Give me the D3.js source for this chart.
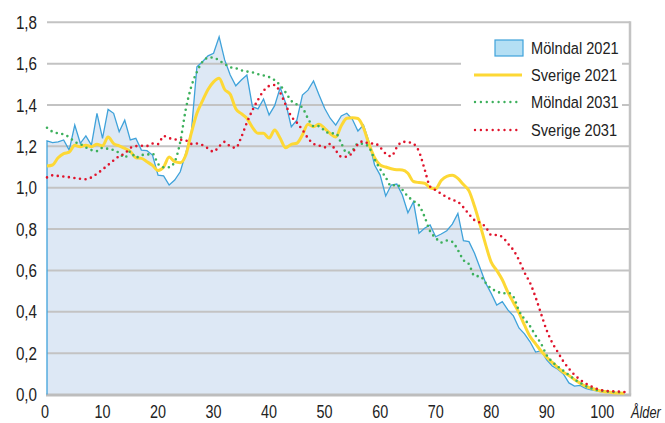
<!DOCTYPE html>
<html>
<head>
<meta charset="utf-8">
<script src="https://cdn.jsdelivr.net/npm/d3@7"></script>
<style>
  body { margin: 0; background: #fff; }
  text { font-family: "Liberation Sans", Arial, sans-serif; }
</style>
</head>
<body>
<div class="chart"></div>
<script>
// ages 0..104
const ages = d3.range(0, 105);

const molndal2021 = [
  1.227, 1.218, 1.222, 1.231, 1.182, 1.303, 1.215, 1.251, 1.206, 1.360,
  1.239, 1.379, 1.360, 1.271, 1.327, 1.231, 1.239, 1.182, 1.179, 1.158,
  1.061, 1.057, 1.013, 1.037, 1.077, 1.168, 1.271, 1.585, 1.609, 1.638,
  1.650, 1.730, 1.618, 1.545, 1.493, 1.521, 1.545, 1.392, 1.381, 1.429,
  1.352, 1.397, 1.484, 1.408, 1.295, 1.327, 1.448, 1.472, 1.516, 1.448,
  1.384, 1.336, 1.303, 1.347, 1.360, 1.331, 1.274, 1.303, 1.222, 1.110,
  1.061, 0.960, 1.013, 1.018, 0.965, 0.879, 0.932, 0.780, 0.804, 0.820,
  0.763, 0.776, 0.792, 0.824, 0.876, 0.744, 0.739, 0.683, 0.612, 0.539,
  0.489, 0.433, 0.449, 0.409, 0.380, 0.322, 0.293, 0.255, 0.205, 0.212,
  0.167, 0.138, 0.122, 0.099, 0.056, 0.041, 0.044, 0.030, 0.022, 0.017,
  0.012, 0.011, 0.010, 0.009, 0.007
];

const sverige2021 = [
  1.105, 1.110, 1.145, 1.165, 1.172, 1.205, 1.198, 1.206, 1.198, 1.210,
  1.202, 1.245, 1.213, 1.202, 1.190, 1.176, 1.145, 1.142, 1.126, 1.108,
  1.083, 1.100, 1.148, 1.126, 1.121, 1.158, 1.265, 1.360, 1.420, 1.475,
  1.512, 1.530, 1.475, 1.452, 1.382, 1.358, 1.336, 1.292, 1.263, 1.263,
  1.240, 1.279, 1.239, 1.193, 1.210, 1.215, 1.255, 1.307, 1.295, 1.307,
  1.287, 1.262, 1.245, 1.300, 1.336, 1.339, 1.335, 1.290, 1.210, 1.145,
  1.110, 1.100, 1.092, 1.087, 1.086, 1.070, 1.030, 1.025, 1.022, 1.000,
  0.995, 1.035, 1.055, 1.060, 1.045, 1.015, 0.985, 0.910, 0.820, 0.725,
  0.640, 0.600, 0.555, 0.495, 0.445, 0.395, 0.335, 0.280, 0.245, 0.210,
  0.180, 0.155, 0.130, 0.108, 0.092, 0.072, 0.055, 0.040, 0.030, 0.022,
  0.016, 0.012, 0.009, 0.007, 0.006
];

const molndal2031 = [
  1.290, 1.271, 1.263, 1.258, 1.244, 1.222, 1.211, 1.195, 1.182, 1.177,
  1.193, 1.188, 1.182, 1.168, 1.145, 1.175, 1.145, 1.158, 1.160, 1.165,
  1.115, 1.099, 1.099, 1.126, 1.222, 1.380, 1.490, 1.560, 1.609, 1.628,
  1.630, 1.615, 1.598, 1.583, 1.578, 1.568, 1.562, 1.558, 1.549, 1.543,
  1.535, 1.520, 1.495, 1.460, 1.420, 1.403, 1.387, 1.335, 1.298, 1.298,
  1.275, 1.263, 1.263, 1.215, 1.168, 1.180, 1.213, 1.212, 1.195, 1.138,
  1.090, 1.050, 1.008, 1.016, 0.990, 0.958, 0.936, 0.915, 0.860, 0.790,
  0.758, 0.735, 0.745, 0.738, 0.699, 0.650, 0.630, 0.573, 0.572, 0.540,
  0.512, 0.500, 0.488, 0.492, 0.473, 0.405, 0.365, 0.330, 0.285, 0.245,
  0.190, 0.158, 0.135, 0.115, 0.094, 0.073, 0.057, 0.041, 0.030, 0.022,
  0.018, 0.014, 0.012, 0.011, 0.011
];

const sverige2031 = [
  1.050, 1.060, 1.057, 1.054, 1.051, 1.047, 1.043, 1.041, 1.050, 1.068,
  1.088, 1.110, 1.132, 1.153, 1.165, 1.192, 1.201, 1.203, 1.202, 1.214,
  1.211, 1.250, 1.240, 1.234, 1.232, 1.229, 1.212, 1.214, 1.206, 1.190,
  1.174, 1.200, 1.222, 1.200, 1.193, 1.245, 1.315, 1.375, 1.425, 1.468,
  1.492, 1.497, 1.460, 1.400, 1.345, 1.315, 1.280, 1.240, 1.212, 1.204,
  1.195, 1.212, 1.180, 1.150, 1.150, 1.170, 1.210, 1.225, 1.213, 1.215,
  1.195, 1.165, 1.152, 1.195, 1.222, 1.220, 1.212, 1.175, 1.090, 1.005,
  0.988, 0.971, 0.954, 0.941, 0.932, 0.905, 0.872, 0.843, 0.831, 0.810,
  0.772, 0.771, 0.762, 0.730, 0.698, 0.650, 0.590, 0.540, 0.470, 0.389,
  0.310, 0.250, 0.205, 0.160, 0.125, 0.095, 0.072, 0.054, 0.040, 0.028,
  0.020, 0.017, 0.016, 0.014, 0.012
];

const xTicks = [0, 10, 20, 30, 40, 50, 60, 70, 80, 90, 100];
const yTicks = [0, 0.2, 0.4, 0.6, 0.8, 1.0, 1.2, 1.4, 1.6, 1.8];
const seriesNames = ["Mölndal 2021", "Sverige 2021", "Mölndal 2031", "Sverige 2031"];

const w = 665, h = 423;
const svg = d3.select(".chart").append("svg").attr("width", w).attr("height", h);

const x = d3.scaleLinear().domain([0, 105]).range([47, 630]);
const y = d3.scaleLinear().domain([0, 1.8]).range([394.5, 22.3]);
const fmt = d => d3.format(".1f")(d).replace(".", ",");
const narrow = 0.8;

// area fill
const area = d3.area().x((d, i) => x(ages[i])).y0(y(0)).y1(d => y(d));
svg.append("path").datum(molndal2021).attr("d", area).attr("fill", "#dde8f5");

// grid
svg.selectAll(".grid")
  .data(yTicks.filter(d => d > 0))
  .enter()
  .append("line")
  .attr("x1", x(0)).attr("x2", x(105))
  .attr("y1", d => y(d)).attr("y2", d => y(d))
  .attr("stroke", "#c3c3c3").attr("stroke-width", 2);

// frame
svg.append("line").attr("x1", x(105)).attr("x2", x(105)).attr("y1", y(1.8) - 1).attr("y2", y(0))
  .attr("stroke", "#c3c3c3").attr("stroke-width", 2.5);
svg.append("line").attr("x1", x(0) - 1).attr("x2", x(105) + 1.2).attr("y1", y(0) + 0.5).attr("y2", y(0) + 0.5)
  .attr("stroke", "#bdbdbd").attr("stroke-width", 3);

// Mölndal 2021 outline, including the left edge
const outline = d3.line().x(d => x(d[0])).y(d => y(d[1]));
const outlinePts = [[0, 0]].concat(molndal2021.map((d, i) => [ages[i], d]));
svg.append("path").datum(outlinePts).attr("d", outline)
  .attr("fill", "none").attr("stroke", "#3fa2da").attr("stroke-width", 1.3);

const line = d3.line().x((d, i) => x(ages[i])).y(d => y(d)).curve(d3.curveMonotoneX);

svg.append("path").datum(sverige2021).attr("d", line)
  .attr("fill", "none").attr("stroke", "#fdd835").attr("stroke-width", 3);

svg.append("path").datum(molndal2031).attr("d", line)
  .attr("fill", "none").attr("stroke", "#3db05c").attr("stroke-width", 2.6)
  .attr("stroke-dasharray", "0,5.6").attr("stroke-linecap", "round");

svg.append("path").datum(sverige2031).attr("d", line)
  .attr("fill", "none").attr("stroke", "#e0142c").attr("stroke-width", 2.6)
  .attr("stroke-dasharray", "0,5.6").attr("stroke-linecap", "round");

// axis labels (condensed look)
svg.selectAll(".ylab")
  .data(yTicks)
  .enter()
  .append("text")
  .attr("transform", d => `translate(37,${y(d) + 6.5}) scale(${narrow},1)`)
  .attr("text-anchor", "end")
  .attr("font-size", 19).attr("fill", "#222")
  .text(fmt);

svg.selectAll(".xlab")
  .data(xTicks)
  .enter()
  .append("text")
  .attr("transform", d => `translate(${x(d) - (d === 0 ? 2 : 0)},418) scale(${narrow},1)`)
  .attr("text-anchor", "middle")
  .attr("font-size", 18).attr("fill", "#222")
  .text(d => d);

svg.append("text")
  .attr("transform", `translate(631,418) scale(${narrow},1)`)
  .attr("font-size", 16).attr("font-style", "italic").attr("fill", "#222")
  .text("Ålder");

// legend
const lg = svg.append("g");
lg.append("rect").attr("x", 461).attr("y", 29).attr("width", 161).attr("height", 113).attr("fill", "#fff");
const rowY = [48, 75, 102, 130];
lg.append("rect").attr("x", 495).attr("y", 40).attr("width", 28).attr("height", 16)
  .attr("fill", "#b4dff4").attr("stroke", "#3fa2da").attr("stroke-width", 1.2);
lg.append("line").attr("x1", 474).attr("x2", 522).attr("y1", rowY[1]).attr("y2", rowY[1])
  .attr("stroke", "#fdd835").attr("stroke-width", 3);
lg.append("line").attr("x1", 475).attr("x2", 522).attr("y1", rowY[2]).attr("y2", rowY[2])
  .attr("stroke", "#3db05c").attr("stroke-width", 2.4)
  .attr("stroke-dasharray", "0,5.9").attr("stroke-linecap", "round");
lg.append("line").attr("x1", 475).attr("x2", 522).attr("y1", rowY[3]).attr("y2", rowY[3])
  .attr("stroke", "#e0142c").attr("stroke-width", 2.4)
  .attr("stroke-dasharray", "0,5.9").attr("stroke-linecap", "round");
lg.selectAll(".lt")
  .data(seriesNames)
  .enter()
  .append("text")
  .attr("transform", (d, i) => `translate(531,${rowY[i] + 6}) scale(0.86,1)`)
  .attr("font-size", 17).attr("fill", "#222")
  .text(d => d);
</script>
</body>
</html>
